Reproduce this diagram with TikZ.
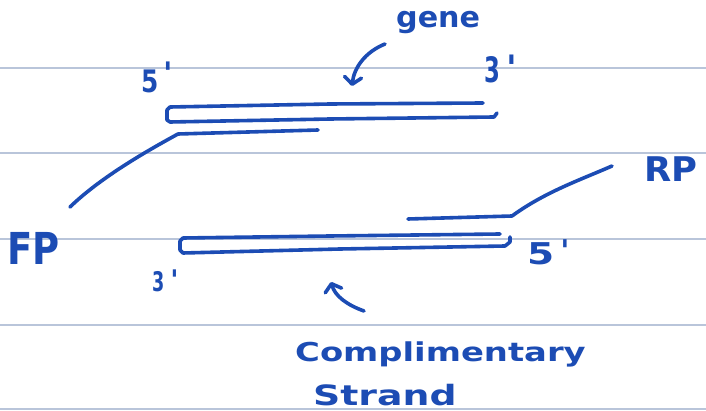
\documentclass[tikz,border=0pt]{standalone}
\usepackage{fontspec}
\setmainfont{DejaVu Sans}
\usetikzlibrary{arrows.meta}
\definecolor{ink}{RGB}{28,76,180}
\definecolor{ruled}{RGB}{185,197,218}
\tikzset{
  inkline/.style={draw=ink, line width=3.6pt, line cap=round, line join=round},
  ruleline/.style={draw=ruled, line width=1.6pt},
  barb/.style={-{Straight Barb[length=7pt,width=17pt,round]}},
  lbl/.style={text=ink, inner sep=0pt, anchor=base west, font=\bfseries},
}
\newcommand{\fs}[1]{\fontsize{#1}{#1}\selectfont}
% digit, size, xscale, gap, raise of the prime tick
\newcommand{\prm}[5]{\fs{#2}\scalebox{#3}[1]{#1}\hspace{#4}\raisebox{#5}{\textquotesingle}}
\begin{document}
\begin{tikzpicture}[x=1pt,y=-1pt]
\useasboundingbox (0,0) rectangle (706,411);
\fill[white] (0,0) rectangle (706,411);
\foreach \yy in {68,153,239,325,409} {\draw[ruleline] (0,\yy) -- (706,\yy);}

% labels
\node[lbl] (gene) at (396,28) {\fs{29}\scalebox{1.04}[1]{gene}};
\node[lbl] (t5) at (141,93) {\prm{5}{31}{0.8}{5pt}{8pt}};
\node[lbl] (t3) at (484,83) {\prm{3}{35}{0.65}{6pt}{2pt}};
\node[lbl] (b3) at (152,292) {\prm{3}{27}{0.65}{6pt}{2pt}};
\node[lbl] (b5) at (527,265) {\prm{5}{30}{1.3}{6pt}{3pt}};
\node[lbl] (fp) at (7,265) {\fs{44}\scalebox{0.84}[1]{FP}};
\node[lbl] (rp) at (644,182) {\fs{34}\scalebox{1.04}[1]{RP}};
\node[lbl] (comp) at (295,361) {\fs{26}\scalebox{1.3}[1]{Complimentary}};
\node[lbl] (strand) at (313,405) {\fs{28}\scalebox{1.35}[1]{Strand}};

% top strand (gene)
\draw[inkline] (483,103) -- (330,104) -- (170,107) -- (167,110) -- (167,120) -- (170,122) -- (330,119) -- (494,117) -- (497,113);
% forward primer
\coordinate (fpa) at (318,130);
\coordinate (fpb) at (178,134);
\coordinate (fpc) at (70,207);
\draw[inkline] (fpa) -- (fpb) .. controls (145,152) and (100,178) .. (fpc);

% bottom strand
\draw[inkline] (500,234) -- (330,236) -- (183,238) -- (180,241) -- (180,250) -- (183,253) -- (340,249) -- (505,246) -- (510,242) -- (510,237);
% reverse primer
\coordinate (rpa) at (408,219);
\coordinate (rpb) at (512,216);
\coordinate (rpc) at (612,166);
\draw[inkline] (rpa) -- (rpb) .. controls (545,192) and (580,180) .. (rpc);

% arrows
\coordinate (ga) at (385,44);
\coordinate (gb) at (352,86);
\draw[inkline, barb] (ga) .. controls (365,52) and (354,68) .. (gb);
\coordinate (ca) at (364,311);
\coordinate (cb) at (331,282);
\draw[inkline, barb] (ca) .. controls (347,305) and (335,296) .. (cb);
\end{tikzpicture}
\end{document}
